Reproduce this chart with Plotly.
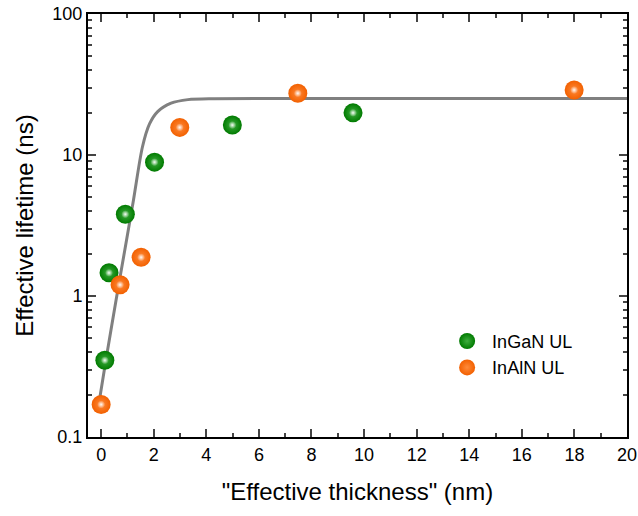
import plotly.graph_objects as go

# Data
ingan_x = [0.14, 0.3, 0.92, 2.03, 4.99, 9.58]
ingan_y = [0.35, 1.46, 3.8, 8.9, 16.3, 19.9]

inaln_x = [0.0, 0.72, 1.52, 2.99, 7.48, 17.99]
inaln_y = [0.17, 1.2, 1.88, 15.7, 27.4, 28.9]

fit_x = [-0.05, 0.18, 0.57, 0.90, 1.23, 1.57, 1.84, 2.15, 2.66, 3.3, 4.3, 10.0, 15.0, 20.0]
fit_y = [0.19, 0.35, 0.94, 2.12, 4.8, 11.4, 16.6, 20.3, 23.3, 24.7, 25.1, 25.15, 25.15, 25.15]

y_tickvals = [0.1, 1, 10, 100]
y_ticktext = ["0.1", "1", "10", "100"]
x_tickvals = list(range(0, 21, 2))

FONT = "Liberation Sans, Arial, sans-serif"

fig = go.Figure()
fig.add_trace(go.Scatter(x=fit_x, y=fit_y, mode="lines",
                         line=dict(color="#808080", width=3, shape="spline", smoothing=0.8),
                         showlegend=False, hoverinfo="skip"))
fig.add_trace(go.Scatter(x=ingan_x, y=ingan_y, mode="markers", name="InGaN UL",
                         marker=dict(size=19, color="#007a00", line=dict(width=0),
                                     gradient=dict(type="radial", color="#3fae3f"))))
fig.add_trace(go.Scatter(x=inaln_x, y=inaln_y, mode="markers", name="InAlN UL",
                         marker=dict(size=19, color="#f26000", line=dict(width=0),
                                     gradient=dict(type="radial", color="#ff8a3a"))))
# specular highlights on the spheres
for xs, ys in ((ingan_x, ingan_y), (inaln_x, inaln_y)):
    fig.add_trace(go.Scatter(x=xs, y=ys, mode="markers", showlegend=False, hoverinfo="skip",
                             marker=dict(size=8, color="rgba(255,255,255,0)", line=dict(width=0),
                                         gradient=dict(type="radial", color="rgba(255,255,255,0.95)"))))

minor_y = [m * 10 ** e for e in (-1, 0, 1) for m in range(2, 10)]

fig.update_layout(
    width=638, height=516,
    margin=dict(l=88, r=11, t=14, b=79),
    paper_bgcolor="white", plot_bgcolor="white",
    font=dict(family=FONT, size=18, color="black"),
    legend=dict(x=0.657, y=0.27, xanchor="left", yanchor="top", bgcolor="rgba(0,0,0,0)",
                font=dict(size=18), itemwidth=40, tracegroupgap=0),
    xaxis=dict(range=[-0.5, 20], tickvals=x_tickvals, ticks="inside", ticklen=8, tickwidth=2,
               showline=True, linewidth=2, linecolor="black", mirror="ticks", showgrid=False, zeroline=False,
               automargin=False,
               minor=dict(tickvals=list(range(1, 20, 2)), ticks="inside", ticklen=4, tickwidth=2, showgrid=False),
               title=dict(text='"Effective thickness" (nm)', font=dict(size=24), standoff=20),
               tickfont=dict(size=18)),
    yaxis=dict(type="log", range=[-1, 2], tickvals=y_tickvals, ticktext=y_ticktext, ticks="inside", ticklen=8,
               tickwidth=2, showline=True, linewidth=2, linecolor="black", mirror="ticks", showgrid=False,
               zeroline=False, automargin=False,
               minor=dict(tickvals=minor_y, ticks="inside", ticklen=4, tickwidth=2, showgrid=False),
               title=dict(text="Effective lifetime (ns)", font=dict(size=24), standoff=12),
               tickfont=dict(size=18)),
)

fig.write_html("out.html")
